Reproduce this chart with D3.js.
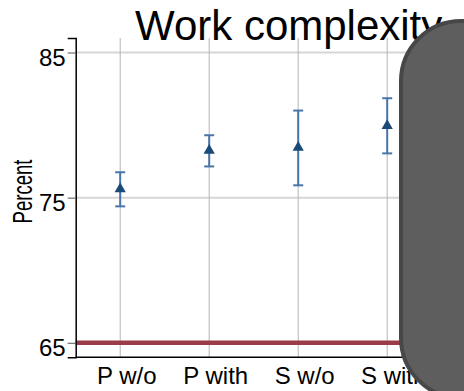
<!DOCTYPE html>
<html>
<head>
<meta charset="utf-8">
<script src="https://cdn.jsdelivr.net/npm/d3@7"></script>
<style>
  body { margin: 0; background: #fff; }
  svg { display: block; font-family: "Liberation Sans", Arial, sans-serif; }
</style>
</head>
<body>
<svg id="chart" width="464" height="391"></svg>
<script>
// values
var categories = ["P w/o", "P with", "S w/o", "S with"];
var estimates = [75.6, 78.25, 78.45, 79.95];
var lowerCI = [74.4, 77.15, 75.85, 78.05];
var upperCI = [76.75, 79.3, 81.0, 81.85];
var yTicks = [65, 75, 85];
var referenceLine = 65;

var svg = d3.select("#chart");

// plot box (not called top/left, window.top is taken)
var plotLeft = 75.7, plotRight = 431.7, plotTop = 38, plotBottom = 357.3;

var x = d3.scaleBand().domain(categories).range([plotLeft, plotRight]);
var y = d3.scaleLinear().domain([64, 86]).range([plotBottom, plotTop]);

function cx(d) { return x(d) + x.bandwidth() / 2; }

// horizontal grid
svg.append("g").selectAll("line").data(yTicks).enter().append("line")
  .attr("x1", plotLeft).attr("x2", plotRight)
  .attr("y1", function(d){ return y(d); }).attr("y2", function(d){ return y(d); })
  .attr("stroke", "#d6d6d6").attr("stroke-width", 2);

// vertical grid
svg.append("g").selectAll("line").data(categories).enter().append("line")
  .attr("x1", cx).attr("x2", cx)
  .attr("y1", plotTop).attr("y2", plotBottom)
  .attr("stroke", "#b4b4b4").attr("stroke-width", 1);

// reference line
svg.append("line")
  .attr("x1", plotLeft).attr("x2", plotRight)
  .attr("y1", y(referenceLine)).attr("y2", y(referenceLine))
  .attr("stroke", "#9b3a48").attr("stroke-width", 4.5);

// axes
var yAxis = d3.axisLeft(y).tickValues(yTicks).tickSize(8).tickPadding(2);
var gy = svg.append("g").attr("transform", "translate(" + plotLeft + ",0)").call(yAxis);
gy.select(".domain").attr("stroke", "#000").attr("stroke-width", 1.5);
gy.selectAll(".tick line").attr("stroke", "#555");
gy.selectAll(".tick text")
  .attr("font-size", 24).attr("fill", "#000")
  .attr("font-family", "Liberation Sans, Arial, sans-serif")
  .attr("dy", null).attr("y", 12.5);

svg.append("line")
  .attr("x1", plotLeft).attr("x2", plotRight)
  .attr("y1", plotBottom).attr("y2", plotBottom)
  .attr("stroke", "#000").attr("stroke-width", 1.5);

// category labels sit a little right of their gridline in the original
svg.append("g").selectAll("text").data(categories).enter().append("text")
  .attr("x", function(d){ return cx(d) + 6.5; }).attr("y", 384)
  .attr("text-anchor", "middle")
  .attr("font-size", 24)
  .text(function(d){ return d; });

// y label, squeezed like the original
svg.append("text")
  .attr("transform", "translate(31.5,191.5) rotate(-90)")
  .attr("text-anchor", "middle")
  .attr("font-size", 27)
  .attr("textLength", 64)
  .attr("lengthAdjust", "spacingAndGlyphs")
  .text("Percent");

// error bars
var bars = svg.append("g").attr("stroke", "#4a75a8").attr("stroke-width", 2);
categories.forEach(function(c, i){
  var xc = cx(c);
  bars.append("line").attr("x1", xc).attr("x2", xc).attr("y1", y(lowerCI[i])).attr("y2", y(upperCI[i]));
  bars.append("line").attr("x1", xc - 5).attr("x2", xc + 5).attr("y1", y(lowerCI[i])).attr("y2", y(lowerCI[i]));
  bars.append("line").attr("x1", xc - 5).attr("x2", xc + 5).attr("y1", y(upperCI[i])).attr("y2", y(upperCI[i]));
});

// point markers
svg.append("g").selectAll("path").data(categories).enter().append("path")
  .attr("d", d3.symbol().type(d3.symbolTriangle).size(55))
  .attr("transform", function(d, i){ return "translate(" + cx(d) + "," + y(estimates[i]) + ")"; })
  .attr("fill", "#1a4a78");

// title
svg.append("text")
  .attr("x", 135).attr("y", 39.5)
  .attr("font-size", 42)
  .text("Work complexity");

// grey panel lying over the right side
svg.append("rect")
  .attr("x", 401).attr("y", 21)
  .attr("width", 200).attr("height", 377)
  .attr("rx", 60).attr("ry", 60)
  .attr("fill", "#5e5e5e")
  .attr("stroke", "#474747").attr("stroke-width", 4);
</script>
</body>
</html>
